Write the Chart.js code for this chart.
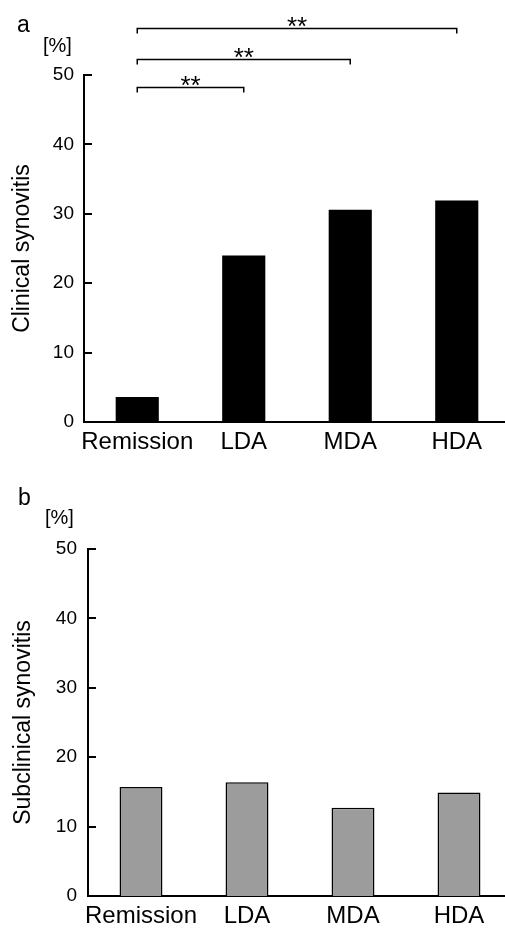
<!DOCTYPE html>
<html lang="en">
<head>
<meta charset="UTF-8">
<title>Synovitis by disease activity</title>
<style>
  html, body { margin: 0; padding: 0; overflow: hidden; background: #fff; }
  .box { position: absolute; left: 0; }
</style>
</head>
<body>
<div class="box" style="top:0; width:510px; height:465px;"><canvas id="chartA"></canvas></div>
<div class="box" style="top:465px; width:512px; height:464px;"><canvas id="chartB"></canvas></div>
<script src="https://cdn.jsdelivr.net/npm/chart.js"></script>
<script>
// data
const categories = ["Remission", "LDA", "MDA", "HDA"];
const clinical = [3.6, 24.0, 30.6, 31.9];
const subclinical = [15.7, 16.4, 12.7, 14.9];
const yTicks = [0, 10, 20, 30, 40, 50];

// significance brackets in panel a (category index from/to, level in %)
const sigFrom = [0, 0, 0];
const sigTo = [1, 2, 3];
const sigLevel = [48.3, 52.3, 56.8];
const sigText = ["**", "**", "**"];

Chart.defaults.font.family = "'Liberation Sans', Arial, sans-serif";
Chart.defaults.color = "#000";

// tick marks pointing into the plot, like the original
const innerTicks = {
    id: 'innerTicks',
    afterDraw(chart) {
        const y = chart.scales.y;
        const ctx = chart.ctx;
        const x0 = chart.chartArea.left;
        ctx.save();
        ctx.strokeStyle = '#000';
        ctx.lineWidth = 2;
        y.ticks.forEach((t, i) => {
            if (t.value === 0) return;
            const py = Math.round(y.getPixelForTick(i));
            ctx.beginPath();
            ctx.moveTo(x0, py);
            ctx.lineTo(x0 + 8, py);
            ctx.stroke();
        });
        ctx.restore();
    }
};

// panel letter and unit label
const panelText = {
    id: 'panelText',
    afterDraw(chart, args, opts) {
        const ctx = chart.ctx;
        ctx.save();
        ctx.fillStyle = '#000';
        ctx.textBaseline = 'alphabetic';
        ctx.font = "23px 'Liberation Sans', Arial, sans-serif";
        ctx.fillText(opts.letter, opts.letterX, opts.letterY);
        ctx.font = "20px 'Liberation Sans', Arial, sans-serif";
        ctx.fillText('[%]', opts.unitX, opts.unitY);
        ctx.restore();
    }
};

const sigBrackets = {
    id: 'sigBrackets',
    afterDraw(chart) {
        const x = chart.scales.x;
        const y = chart.scales.y;
        const ctx = chart.ctx;
        ctx.save();
        ctx.strokeStyle = '#000';
        ctx.fillStyle = '#000';
        ctx.lineWidth = 1.5;
        ctx.textAlign = 'center';
        ctx.textBaseline = 'alphabetic';
        ctx.font = "26px 'Liberation Sans', Arial, sans-serif";
        for (let i = 0; i < sigFrom.length; i++) {
            const x1 = x.getPixelForValue(sigFrom[i]);
            const x2 = x.getPixelForValue(sigTo[i]);
            const py = Math.round(y.getPixelForValue(sigLevel[i])) + 0.5;
            ctx.beginPath();
            ctx.moveTo(x1, py + 5);
            ctx.lineTo(x1, py);
            ctx.lineTo(x2, py);
            ctx.lineTo(x2, py + 5);
            ctx.stroke();
            ctx.fillText(sigText[i], (x1 + x2) / 2, py + 6);
        }
        ctx.restore();
    }
};

function makeChart(id, values, fill, border, title, p) {
    return new Chart(document.getElementById(id), {
        type: 'bar',
        data: {
            labels: categories,
            datasets: [{
                data: values,
                backgroundColor: fill,
                borderColor: '#000',
                borderWidth: border,
                barPercentage: 0.405,
                categoryPercentage: 1.0
            }]
        },
        options: {
            responsive: true,
            maintainAspectRatio: false,
            animation: false,
            layout: { padding: { top: p.top, left: 0, right: 0, bottom: 0 } },
            plugins: {
                legend: { display: false },
                tooltip: { enabled: false },
                panelText: p.text
            },
            scales: {
                x: {
                    grid: { display: false, drawTicks: false },
                    border: { display: true, color: '#000', width: 2 },
                    ticks: { color: '#000', font: { size: 24 }, padding: 6, maxRotation: 0, autoSkip: false },
                    afterFit: s => { s.height = p.xHeight; }
                },
                y: {
                    min: 0,
                    max: 50,
                    grid: { display: false, drawTicks: false },
                    border: { display: true, color: '#000', width: 2 },
                    ticks: { color: '#000', font: { size: 19 }, padding: p.tickPad },
                    afterBuildTicks: s => { s.ticks = yTicks.map(v => ({ value: v })); },
                    afterFit: s => { s.width = p.yWidth; },
                    title: {
                        display: true,
                        text: title,
                        color: '#000',
                        font: { size: 23 },
                        padding: { top: p.titlePad, bottom: 0 }
                    }
                }
            }
        },
        plugins: p.brackets ? [innerTicks, panelText, sigBrackets] : [innerTicks, panelText]
    });
}

makeChart('chartA', clinical, '#000', 0, 'Clinical synovitis', {
    top: 75, xHeight: 43, yWidth: 84, tickPad: 10, titlePad: 9, brackets: true,
    text: { letter: 'a', letterX: 17, letterY: 32, unitX: 43, unitY: 52 }
});

makeChart('chartB', subclinical, '#9c9c9c', 1.5, 'Subclinical synovitis', {
    top: 84, xHeight: 33, yWidth: 88, tickPad: 11, titlePad: 10, brackets: false,
    text: { letter: 'b', letterX: 18, letterY: 40, unitX: 45, unitY: 59 }
});
</script>
</body>
</html>
